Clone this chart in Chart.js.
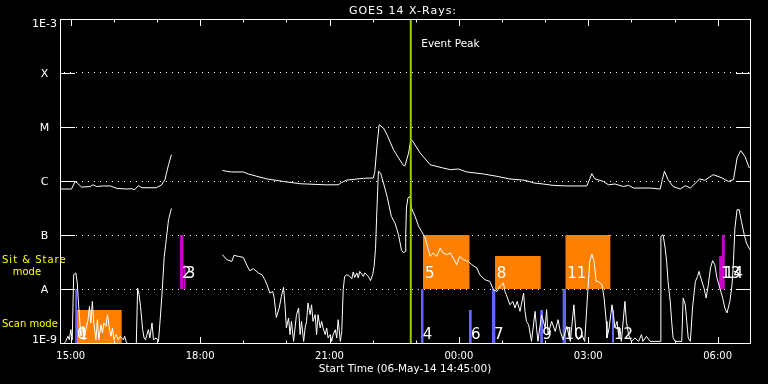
<!DOCTYPE html>
<html><head><meta charset="utf-8">
<script src="https://cdn.jsdelivr.net/npm/chart.js@4.4.1/dist/chart.umd.min.js"></script>
<style>html,body{margin:0;padding:0;background:#000;}#wrap{width:768px;height:384px;}</style>
</head><body><div id="wrap"><canvas id="c" width="768" height="384"></canvas></div>
<script>
// ---------------- data ----------------
const startTime = '14:45';
const titleText = 'GOES 14 X-Rays:';
const xAxisTitle = 'Start Time (06-May-14 14:45:00)';
const eventPeakTime = '22:53';

const yTickValues = [1e-9, 1e-8, 1e-7, 1e-6, 1e-5, 1e-4, 1e-3];
const yTickLabels = ['1E-9', 'A', 'B', 'C', 'M', 'X', '1E-3'];
const xTickLabels = ['15:00', '18:00', '21:00', '00:00', '03:00', '06:00'];

// GOES long channel (1-8 A), before and after data gap
const longTimesA = ['14:45','15:01','15:06','15:09','15:15','15:27','15:31','15:36','15:45','15:55','16:04','16:18','16:25','16:29','16:34','16:39','16:59','17:06','17:11','17:16','17:20'];
const longFluxA = [7.1e-7,7.1e-7,9.8e-7,9.2e-7,7.7e-7,7.9e-7,8.5e-7,7.9e-7,8.1e-7,8.1e-7,7.3e-7,7.1e-7,7.2e-7,6.9e-7,8.2e-7,7.5e-7,7.5e-7,8.4e-7,1.06e-6,2.0e-6,3.07e-6];
const longTimesB = ['18:31','18:37','18:44','19:00','19:07','19:19','19:33','19:56','20:19','20:54','21:12','21:17','21:24','21:47','22:01','22:03','22:06','22:09','22:15','22:20','22:24','22:29','22:36','22:43','22:45','22:50','22:53','22:56','23:06','23:20','23:38','23:48','23:59','00:11','00:34','00:53','01:11','01:32','01:44','01:57','02:11','02:30','02:58','03:05','03:09','03:21','03:28','03:37','03:49','03:56','04:03','04:26','04:40','04:43','04:46','04:51','04:58','05:08','05:15','05:22','05:35','05:42','05:54','06:06','06:15','06:22','06:27','06:32','06:38','06:44'];
const longFluxB = [1.57e-6,1.51e-6,1.47e-6,1.47e-6,1.35e-6,1.22e-6,1.09e-6,9.8e-7,8.9e-7,8.5e-7,8.5e-7,9.4e-7,1.04e-6,1.12e-6,1.14e-6,1.51e-6,4.37e-6,1.1e-5,9.6e-6,7.2e-6,5.4e-6,3.8e-6,2.67e-6,1.92e-6,1.92e-6,3.3e-6,5.8e-6,5.4e-6,3.3e-6,2.0e-6,1.74e-6,1.62e-6,1.67e-6,1.47e-6,1.35e-6,1.22e-6,1.09e-6,1.03e-6,9.2e-7,8.8e-7,8.3e-7,8.1e-7,8.1e-7,1.37e-6,1.10e-6,9.8e-7,8.5e-7,8.8e-7,7.9e-7,8.3e-7,7.4e-7,7.4e-7,7.1e-7,1.06e-6,1.51e-6,1.06e-6,7.9e-7,7.1e-7,8.2e-7,7.4e-7,1.09e-6,1.03e-6,1.31e-6,1.14e-6,9.8e-7,1.06e-6,2.67e-6,3.64e-6,2.85e-6,1.74e-6];

// GOES short channel (0.5-4 A)
const shortTimesA = ['14:45','14:53','14:56','14:58','15:00','15:02','15:04','15:07','15:09','15:11','15:14','15:17','15:18','15:21','15:24','15:26','15:28','15:30','15:32','15:35','15:37','15:39','15:42','15:44','15:46','15:49','15:51','15:54','15:56','15:58','16:00','16:03','16:06','16:09','16:13','16:15','16:17','16:22','16:31','16:33','16:35','16:37','16:40','16:42','16:44','16:48','16:50','16:53','16:55','16:59','17:02','17:04','17:07','17:10','17:12','17:16','17:20'];
const shortFluxA = [8e-10,1.07e-9,1.33e-9,1.15e-9,1.77e-9,1.15e-9,1.84e-8,1.98e-8,1.29e-8,4.76e-9,1.33e-9,2.03e-9,1.15e-9,1.77e-9,2.70e-9,4.76e-9,2.35e-9,5.9e-9,2.35e-9,1.15e-9,2.70e-9,1.15e-9,2.18e-9,1.53e-9,2.35e-9,2.03e-9,3.34e-9,1.77e-9,1.33e-9,1.9e-9,1.15e-9,1.43e-9,1.15e-9,1.33e-9,1.15e-9,1.33e-9,1.07e-9,8e-10,8e-10,1.04e-8,7.8e-9,4.76e-9,1.77e-9,1.24e-9,1.15e-9,1.77e-9,1.24e-9,2.35e-9,1.15e-9,1.24e-9,1.07e-9,2.35e-9,8.4e-9,4.01e-8,6.6e-8,1.92e-7,3.1e-7];
const shortTimesB = ['18:31','18:37','18:44','18:47','18:53','19:00','19:05','19:09','19:14','19:21','19:26','19:30','19:33','19:37','19:41','19:43','19:46','19:50','19:53','19:56','19:58','20:00','20:03','20:05','20:07','20:10','20:12','20:14','20:17','20:19','20:21','20:24','20:26','20:28','20:30','20:33','20:35','20:37','20:40','20:42','20:44','20:47','20:49','20:51','20:54','20:56','20:58','21:01','21:03','21:05','21:08','21:10','21:12','21:15','21:17','21:19','21:21','21:24','21:28','21:31','21:33','21:35','21:38','21:40','21:42','21:47','21:49','21:54','21:57','22:00','22:02','22:04','22:06','22:08','22:11','22:15','22:20','22:26','22:31','22:36','22:40','22:43','22:45','22:46','22:47','22:49','22:52','22:54','22:59','23:04','23:08','23:13','23:17','23:20','23:24','23:29','23:34','23:38','23:43','23:48','23:52','23:57','00:01','00:06','00:13','00:18','00:25','00:29','00:36','00:43','00:48','00:53','00:57','01:02','01:04','01:06','01:11','01:15','01:18','01:21','01:25','01:30','01:32','01:34','01:37','01:41','01:46','01:48','01:50','01:55','02:00','02:02','02:04','02:09','02:14','02:18','02:21','02:25','02:30','02:35','02:40','02:43','02:46','02:51','02:55','02:59','03:02','03:05','03:08','03:11','03:14','03:19','03:22','03:25','03:26','03:29','03:33','03:35','03:37','03:40','03:42','03:44','03:46','03:51','03:53','03:56','04:00','04:05','04:10','04:14','04:16','04:21','04:26','04:40','04:41','04:44','04:47','04:49','04:51','04:54','04:56','04:58','05:01','05:10','05:12','05:15','05:17','05:19','05:22','05:25','05:29','05:32','05:34','05:38','05:41','05:44','05:47','05:50','05:53','05:56','05:59','06:03','06:07','06:10','06:13','06:17','06:20','06:22','06:24','06:27','06:30','06:33','06:37','06:40','06:45'];
const shortFluxB = [4.32e-8,3.49e-8,3.24e-8,4.19e-8,4.02e-8,3.85e-8,2.74e-8,2.18e-8,2.38e-8,1.98e-8,1.84e-8,1.49e-8,1.20e-8,8.4e-9,9.0e-9,6.8e-9,2.98e-9,4.45e-9,7.3e-9,1.07e-8,5.1e-9,1.90e-9,2.90e-9,1.43e-9,2.51e-9,1.07e-9,1.90e-9,3.34e-9,4.45e-9,1.43e-9,2.51e-9,1.07e-9,1.90e-9,2.51e-9,5.5e-9,3.34e-9,5.1e-9,2.51e-9,3.34e-9,1.43e-9,3.34e-9,1.90e-9,2.51e-9,1.90e-9,1.43e-9,1.90e-9,1.24e-9,1.43e-9,1.07e-9,1.43e-9,1.76e-9,1.24e-9,2.70e-9,1.07e-9,1.64e-9,9.7e-9,1.71e-8,1.84e-8,1.71e-8,1.55e-8,2.07e-8,1.64e-8,1.98e-8,1.60e-8,2.12e-8,1.71e-8,1.98e-8,1.71e-8,1.43e-8,1.84e-8,2.62e-8,5.7e-8,3.16e-7,1.51e-6,1.41e-6,9.2e-7,5.2e-7,2.21e-7,1.67e-7,1.01e-7,5.3e-8,4.64e-8,4.97e-8,1.01e-7,3.16e-7,4.84e-7,5.2e-7,3.16e-7,2.21e-7,1.44e-7,1.17e-7,8.8e-8,5.7e-8,4.02e-8,4.64e-8,4.02e-8,5.7e-8,4.64e-8,4.32e-8,4.64e-8,3.75e-8,2.82e-8,4.02e-8,3.49e-8,3.24e-8,2.82e-8,2.45e-8,1.84e-8,1.49e-8,1.38e-8,9.7e-9,9.0e-9,1.12e-8,1.29e-8,9.0e-9,7.8e-9,5.1e-9,5.9e-9,4.45e-9,5.9e-9,3.85e-9,8.4e-9,3.85e-9,2.51e-9,2.18e-9,1.07e-9,3.85e-9,1.90e-9,1.07e-9,3.34e-9,1.90e-9,4.14e-9,1.43e-9,2.51e-9,1.64e-9,2.70e-9,1.64e-9,1.15e-9,2.03e-9,1.07e-9,5.1e-9,1.43e-9,1.15e-9,1.43e-9,1.07e-9,7.8e-9,3.24e-8,4.45e-8,3.24e-8,1.38e-8,1.38e-8,1.20e-8,6.8e-9,2.51e-9,1.24e-9,1.90e-9,5.1e-9,3.34e-9,1.90e-9,2.51e-9,1.43e-9,1.90e-9,1.07e-9,5.9e-9,2.51e-9,1.43e-9,1.07e-9,1.24e-9,1.07e-9,1.43e-9,1.07e-9,1.33e-9,1.07e-9,1.07e-9,9.4e-8,1.01e-7,5.7e-8,3.24e-8,1.38e-8,5.9e-9,2.51e-9,1.24e-9,1.07e-9,1.07e-9,6.8e-9,5.1e-9,2.51e-9,1.24e-9,1.07e-9,4.45e-9,1.38e-8,1.71e-8,2.12e-8,1.38e-8,1.04e-8,6.8e-9,1.20e-8,2.45e-8,3.34e-8,2.82e-8,1.60e-8,1.04e-8,6.8e-9,4.45e-9,3.6e-9,5.9e-9,1.20e-8,3.24e-8,1.35e-7,2.94e-7,2.94e-7,1.79e-7,1.01e-7,7.1e-8,5.3e-8];

// IRIS observations
const obsLabels = ['0','1','2','3','4','5','6','7','8','9','10','11','12','13','14'];
const obsStart  = ['15:06','15:08','17:32','17:37','23:07','23:10','00:14','00:46','00:50','01:53','02:24','02:28','03:33','06:02','06:06'];
const obsEnd    = ['15:09','16:11','17:37','17:40','23:11','00:15','00:18','00:51','01:54','01:57','02:29','03:31','03:36','06:06','06:10'];
const obsMode   = ['scan','scan','sit','sit','scan','sit','scan','scan','sit','scan','scan','sit','scan','sit','sit'];
const obsLevel  = [1,0.61,1,0.44,1,1,0.61,1,0.61,0.61,1,1,0.61,0.61,1];
const obsKind   = ['short','long','sitstare','sitstare','short','long','short','short','long','short','short','long','short','sitstare','sitstare'];

// ---------------- styles ----------------
const kindColor = { short: '#6464ff', long: '#ff8000', sitstare: '#cc00cc' };
const FONT = '"DejaVu Sans", "Liberation Sans", sans-serif';

// ---------------- helpers ----------------
function hrs(t) {
  const [h, m] = t.split(':').map(Number);
  const [h0, m0] = startTime.split(':').map(Number);
  let d = h * 60 + m - (h0 * 60 + m0);
  if (d < 0) d += 1440;
  return d / 60;
}
function series(times, flux) { return times.map((t, i) => ({ x: hrs(t), y: flux[i] })); }

const longData = [...series(longTimesA, longFluxA), { x: hrs('18:00'), y: null }, ...series(longTimesB, longFluxB)];
const shortData = [...series(shortTimesA, shortFluxA), { x: hrs('18:00'), y: null }, ...series(shortTimesB, shortFluxB)];

const obsDatasets = obsLabels.map((lab, i) => {
  const base = obsMode[i] === 'sit' ? 1e-8 : 1e-9;
  const top = base * Math.pow(10, obsLevel[i]);
  return {
    label: 'obs ' + lab,
    data: [{ x: hrs(obsStart[i]), y: top }, { x: hrs(obsEnd[i]), y: top }],
    borderWidth: 0, borderColor: 'rgba(0,0,0,0)', pointRadius: 0,
    fill: { value: base }, backgroundColor: kindColor[obsKind[i]], order: 10
  };
});

const decor = {
  id: 'decor',
  beforeDraw(chart) {
    const c = chart.ctx; c.save(); c.fillStyle = '#000'; c.fillRect(0, 0, chart.width, chart.height); c.restore();
  },
  afterDatasetsDraw(chart) {
    const { ctx: c, chartArea: a, scales: { x, y } } = chart;
    c.save();
    // observation numbers
    c.fillStyle = '#fff'; c.textAlign = 'left'; c.textBaseline = 'alphabetic';
    c.font = '15px ' + FONT;
    obsLabels.forEach((lab, i) => {
      const px = x.getPixelForValue(hrs(obsStart[i])) + 2;
      const base = obsMode[i] === 'sit' ? y.getPixelForValue(1e-8) - 11 : y.getPixelForValue(1e-9) - 4;
      c.fillText(lab, px, base);
    });
    // frame
    c.strokeStyle = '#fff'; c.lineWidth = 1;
    const L = Math.round(a.left), R = Math.round(a.right), T = Math.round(a.top), B = Math.round(a.bottom);
    c.strokeRect(L + 0.5, T + 0.5, R - L, B - T);
    c.beginPath();
    yTickValues.forEach(v => {
      const py = Math.round(y.getPixelForValue(v)) + 0.5;
      c.moveTo(L, py); c.lineTo(L + 15, py);
      c.moveTo(R - 14, py); c.lineTo(R, py);
    });
    const first = hrs(xTickLabels[0]);
    for (let k = 0; first + k <= x.max; k++) {
      const px = Math.round(x.getPixelForValue(first + k)) + 0.5;
      const len = (k % 3 === 0) ? 7 : 3.5;
      c.moveTo(px, T); c.lineTo(px, T + len);
      c.moveTo(px, B + 1); c.lineTo(px, B + 1 - len);
    }
    c.stroke();
    // axis labels
    c.fillStyle = '#fff'; c.textAlign = 'center';
    c.font = '11px ' + FONT;
    yTickLabels.forEach((lab, i) => {
      let py = y.getPixelForValue(yTickValues[i]) + 4;
      py = Math.min(Math.max(py, T + 7.7), B + 0.3);
      c.fillText(lab, 44.5, py);
    });
    c.font = '10px ' + FONT;
    xTickLabels.forEach(lab => c.fillText(lab, x.getPixelForValue(hrs(lab)), B + 15.5));
    c.font = '10.5px ' + FONT;
    c.fillText(xAxisTitle, (a.left + a.right) / 2, B + 28.5);
    c.font = '11px ' + FONT;
    c.letterSpacing = '1px';
    c.fillText(titleText, (a.left + a.right) / 2 - 2, 13.5);
    c.letterSpacing = '0px';
    // event peak text
    c.textAlign = 'left'; c.font = '10.5px ' + FONT;
    c.fillText('Event Peak', x.getPixelForValue(hrs(eventPeakTime)) + 10.5, 46.7);
    // mode labels
    c.fillStyle = '#ffff00'; c.font = '10px ' + FONT;
    const sitMid = (y.getPixelForValue(1e-8) + y.getPixelForValue(1e-7)) / 2;
    const scanMid = (y.getPixelForValue(1e-9) + y.getPixelForValue(1e-8)) / 2;
    c.letterSpacing = '1px';
    c.fillText('Sit & Stare', 2, sitMid + 0.5);
    c.letterSpacing = '0px';
    c.fillText('mode', 12.7, sitMid + 12.7);
    c.fillText('Scan mode', 2, scanMid + 11);
    c.restore();
  }
};

new Chart(document.getElementById('c'), {
  type: 'line',
  data: {
    datasets: [
      { label: 'Event Peak', data: [{ x: hrs(eventPeakTime), y: 1e-9 }, { x: hrs(eventPeakTime), y: 1e-3 }], borderColor: '#99cc00', borderWidth: 2, pointRadius: 0, order: 0 },
      { label: 'GOES long', data: longData, borderColor: '#ffffff', borderWidth: 1, pointRadius: 0, tension: 0, spanGaps: false, order: 5 },
      { label: 'GOES short', data: shortData, borderColor: '#ffffff', borderWidth: 1, pointRadius: 0, tension: 0, spanGaps: false, order: 5 },
      ...obsDatasets
    ]
  },
  options: {
    responsive: false, animation: false, devicePixelRatio: 1,
    layout: { padding: { left: 0, top: 19, right: 18, bottom: 0 } },
    plugins: { legend: { display: false }, tooltip: { enabled: false }, title: { display: false } },
    scales: {
      x: {
        type: 'linear', min: 0, max: 16,
        ticks: { display: false }, grid: { display: false }, border: { display: false },
        afterFit: s => { s.height = 41; }
      },
      y: {
        type: 'logarithmic', min: 1e-9, max: 1e-3,
        afterBuildTicks: s => { s.ticks = yTickValues.map(v => ({ value: v })); },
        ticks: { display: false },
        grid: {
          drawTicks: false, lineWidth: 1,
          color: ctx => (ctx.tick && (ctx.tick.value === 1e-9 || ctx.tick.value === 1e-3)) ? 'rgba(0,0,0,0)' : '#ffffff'
        },
        border: { display: false, dash: [1, 5], dashOffset: 2 },
        afterFit: s => { s.width = 60; }
      }
    }
  },
  plugins: [decor]
});
</script>
</body></html>
